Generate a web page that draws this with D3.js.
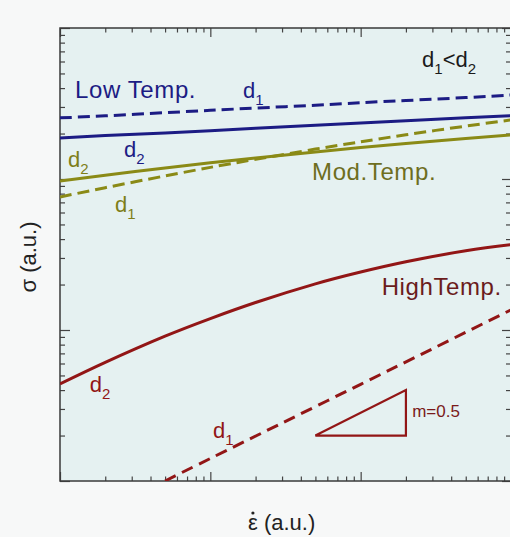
<!DOCTYPE html>
<html>
<head>
<meta charset="utf-8">
<script src="https://cdn.jsdelivr.net/npm/d3@7/dist/d3.min.js"></script>
<style>
  html, body { margin: 0; padding: 0; background: #f7f8f8; }
  svg { display: block; font-family: "Liberation Sans", Arial, sans-serif; }
</style>
</head>
<body>
<div id="chart"></div>
<script>
// strain rate (a.u.) where curves were read
const strainRate = [1, 2, 5, 10, 20, 50, 100, 200, 500, 1000];

// flow stress (a.u.)
const lowD1  = [254, 262, 275, 285, 295, 308, 320, 331, 346, 360];
const lowD2  = [187, 194, 202, 209, 217, 227, 235, 243, 254, 263];
const modD2  = [97, 105.8, 118.3, 127.9, 137.7, 151.2, 161.5, 171.8, 185.4, 195.6];
const modD1  = [76, 87.6, 104.8, 119.4, 135, 157.8, 176.3, 196.3, 224, 246];
const highD2 = [4.39, 6.1, 9.1, 11.9, 15.2, 20.2, 24.2, 28.3, 33.5, 36.8];

// high temperature, small grain: straight power law
const highD1Rate = [5, 10, 100, 1000];
const highD1 = [1.0, 1.41, 4.37, 13.6];

// slope triangle m = 0.5
const triRate = [50, 200, 200];
const triStress = [2, 4, 2];

const series = [
  { x: strainRate, y: lowD1, color: '#1c1c84', dash: '12,6' },
  { x: strainRate, y: lowD2, color: '#1c1c84', dash: null },
  { x: strainRate, y: modD2, color: '#8a8a16', dash: null },
  { x: strainRate, y: modD1, color: '#8a8a16', dash: '12,6' },
  { x: strainRate, y: highD2, color: '#921616', dash: null },
  { x: highD1Rate, y: highD1, color: '#921616', dash: '12,7' }
];

const width = 510, height = 537;
const margin = { top: 28, right: -1, bottom: 56, left: 60 };

const x = d3.scaleLog().domain([1, 1000]).range([margin.left, width - margin.right]);
const y = d3.scaleLog().domain([1, 1000]).range([height - margin.bottom, margin.top]);

const svg = d3.select('#chart').append('svg')
  .attr('width', width)
  .attr('height', height);

svg.append('rect')
  .attr('width', width).attr('height', height)
  .attr('fill', '#f7f8f8');

svg.append('clipPath').attr('id', 'clip')
  .append('rect')
  .attr('x', x(1)).attr('y', y(1000))
  .attr('width', x(1000) - x(1)).attr('height', y(1) - y(1000));

svg.append('rect')
  .attr('x', x(1)).attr('y', y(1000))
  .attr('width', x(1000) - x(1)).attr('height', y(1) - y(1000))
  .attr('fill', '#e5f1f1');

// ticks
const majors = [1, 10, 100, 1000];
const minors = [];
for (let k = 0; k < 3; k++) for (let m = 2; m <= 9; m++) minors.push(m * Math.pow(10, k));

function ticks(axisFn, scale, vals, size, transform) {
  const g = svg.append('g')
    .attr('transform', transform)
    .call(axisFn(scale).tickValues(vals).tickSize(-size).tickSizeOuter(0).tickFormat(''));
  g.select('.domain').remove();
  g.selectAll('line').attr('stroke', '#444').attr('stroke-width', 1.2);
}

const b = y(1), t = y(1000), l = x(1), r = x(1000);
ticks(d3.axisBottom, x, majors, 9, `translate(0,${b})`);
ticks(d3.axisBottom, x, minors, 4.5, `translate(0,${b})`);
ticks(d3.axisTop, x, majors, 9, `translate(0,${t})`);
ticks(d3.axisTop, x, minors, 4.5, `translate(0,${t})`);
ticks(d3.axisLeft, y, majors, 10, `translate(${l},0)`);
ticks(d3.axisLeft, y, minors, 5, `translate(${l},0)`);
ticks(d3.axisRight, y, majors, 9, `translate(${r},0)`);
ticks(d3.axisRight, y, minors, 5, `translate(${r},0)`);

// frame
svg.append('rect')
  .attr('x', l).attr('y', t)
  .attr('width', r - l).attr('height', b - t)
  .attr('fill', 'none')
  .attr('stroke', '#3a3a3a')
  .attr('stroke-width', 1.5);

const line = d3.line()
  .x(d => x(d[0]))
  .y(d => y(d[1]))
  .curve(d3.curveNatural);

const plot = svg.append('g').attr('clip-path', 'url(#clip)');

series.forEach(s => {
  plot.append('path')
    .datum(s.x.map((v, i) => [v, s.y[i]]))
    .attr('d', line)
    .attr('fill', 'none')
    .attr('stroke', s.color)
    .attr('stroke-width', 3)
    .attr('stroke-dasharray', s.dash);
});

// slope triangle
plot.append('path')
  .datum(triRate.map((v, i) => [v, triStress[i]]))
  .attr('d', d3.line().x(d => x(d[0])).y(d => y(d[1])).curve(d3.curveLinearClosed))
  .attr('fill', 'none')
  .attr('stroke', '#921616')
  .attr('stroke-width', 2.2);

// text labels (data coordinates)
const labels = [
  { x: 1.26, y: 344, text: 'Low Temp.', color: '#1c1c84', size: 24 },
  { x: 47.5, y: 98.5, text: 'Mod.Temp.', color: '#6e6e1e', size: 24 },
  { x: 138, y: 17.1, text: 'HighTemp.', color: '#6b1c1c', size: 24 },
  { x: 220, y: 2.65, text: 'm=0.5', color: '#7a1a1a', size: 17 }
];

labels.forEach(d => {
  svg.append('text')
    .attr('x', x(d.x)).attr('y', y(d.y))
    .attr('fill', d.color)
    .attr('font-size', d.size)
    .attr('letter-spacing', d.size > 20 ? 0.6 : 0)
    .text(d.text);
});

// d labels with subscripts
const dLabels = [
  { x: 16.5, y: 344, sub: '1', color: '#1c1c84' },
  { x: 2.67, y: 140, sub: '2', color: '#1c1c84' },
  { x: 1.13, y: 120, sub: '2', color: '#7e7e18' },
  { x: 2.32, y: 60.4, sub: '1', color: '#7e7e18' },
  { x: 1.58, y: 3.88, sub: '2', color: '#921616' },
  { x: 10.4, y: 1.93, sub: '1', color: '#921616' }
];

dLabels.forEach(d => {
  const tx = svg.append('text')
    .attr('x', x(d.x)).attr('y', y(d.y))
    .attr('fill', d.color)
    .attr('font-size', 22);
  tx.append('tspan').text('d');
  tx.append('tspan').attr('dy', 7).attr('font-size', 15).text(d.sub);
});

const rel = svg.append('text')
  .attr('x', x(256)).attr('y', y(552))
  .attr('fill', '#1a1a1a')
  .attr('font-size', 22);
rel.append('tspan').text('d');
rel.append('tspan').attr('dy', 7).attr('font-size', 15).text('1');
rel.append('tspan').attr('dy', -7).text('<d');
rel.append('tspan').attr('dy', 7).attr('font-size', 15).text('2');

// axis titles
const xt = svg.append('text')
  .attr('x', 248).attr('y', 530)
  .attr('font-size', 22)
  .attr('fill', '#222');
const eps = xt.append('tspan').text('\u03B5');
xt.append('tspan').text(' (a.u.)');
const epsW = eps.node().getComputedTextLength();
svg.append('circle')
  .attr('cx', 248 + epsW / 2).attr('cy', 513)
  .attr('r', 1.6)
  .attr('fill', '#222');

svg.append('text')
  .attr('transform', 'translate(36,257) rotate(-90)')
  .attr('text-anchor', 'middle')
  .attr('font-size', 22)
  .attr('fill', '#222')
  .text('\u03C3 (a.u.)');
</script>
</body>
</html>
